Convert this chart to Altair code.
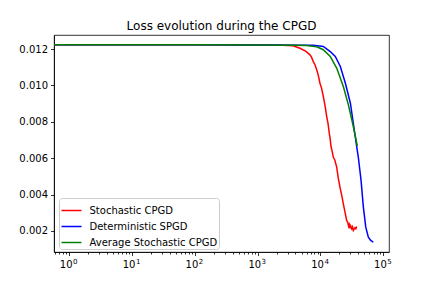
import altair as alt
import pandas as pd

title_text = "Loss evolution during the CPGD"
series_names = ["Stochastic CPGD", "Deterministic SPGD", "Average Stochastic CPGD"]
series_colors = ["#ff0000", "#0000ff", "#008000"]

# first sample is iteration 0 (clipped to the left edge on the log axis)
red_x = [0.3, 1, 10, 100, 1000, 2500, 3650, 4720, 5800, 6810, 7200, 7680, 8200, 8700, 9200,
         9810, 10400, 11090, 11800, 12560, 13200, 13800, 14200, 14700, 15300, 16000,
         16900, 18100, 19200, 20400, 21700, 23100, 24500, 26100, 27300, 28000, 28700,
         29500, 30200, 31400, 32300, 33300, 34200, 35400, 36500, 37700]
red_y = [0.01223, 0.01223, 0.01223, 0.01223, 0.01222, 0.01221, 0.01218, 0.01204, 0.01188, 0.01168,
         0.01155, 0.01131, 0.01112, 0.01086, 0.01058, 0.01012, 0.00985, 0.00939, 0.00890,
         0.00829, 0.00790, 0.00737, 0.00712, 0.00664, 0.00640, 0.00605, 0.00590, 0.00551,
         0.00490, 0.00441, 0.00398, 0.00349, 0.00305, 0.00258, 0.00245, 0.00226, 0.00236,
         0.00215, 0.00228, 0.00212, 0.00222, 0.00203, 0.00210, 0.00218, 0.00212, 0.00225]

blue_x = [0.3, 1, 10, 100, 1000, 5000, 7680, 11090, 14300, 17200, 20700, 24900, 29900, 33300,
          37700, 40000, 44200, 48100, 52500, 57700, 63000, 69300]
blue_y = [0.01223, 0.01223, 0.01223, 0.01223, 0.01222, 0.01221, 0.01220, 0.01214, 0.01186, 0.01159,
          0.01104, 0.01012, 0.00902, 0.00792, 0.00664, 0.00605, 0.00478, 0.00331, 0.00221,
          0.00166, 0.00148, 0.00138]

green_x = [0.3, 1, 10, 100, 1000, 4000, 5940, 8700, 11090, 14300, 18100, 23100, 27800, 33300, 38500]
green_y = [0.01223, 0.01223, 0.01223, 0.01223, 0.01222, 0.01221, 0.01219, 0.01212, 0.01196, 0.01159,
           0.01095, 0.00994, 0.00893, 0.00774, 0.00667]

y_ticks = [0.002, 0.004, 0.006, 0.008, 0.010, 0.012]
x_major = [1, 10, 100, 1000, 10000, 100000]
x_minor = [m * 10 ** k for k in range(-1, 5) for m in range(2, 10)]
x_minor = [v for v in x_minor if 0.577 <= v <= 123000]

rows = []
for name, xs, ys in zip(series_names, [red_x, blue_x, green_x], [red_y, blue_y, green_y]):
    for i, (xv, yv) in enumerate(zip(xs, ys)):
        rows.append({"series": name, "iter": xv, "loss": yv, "order": i})
df = pd.DataFrame(rows)

x_scale = alt.Scale(type="log", domain=[0.577, 123000], nice=False)
y_scale = alt.Scale(domain=[0.000844, 0.01277], nice=False, zero=False)

y_axis = alt.Axis(values=y_ticks, format=".3f", title=None, grid=False,
                  tickSize=3.5, labelPadding=3)

exp_expr = 'format(round(log(datum.value)/LN10), "d")'

lines = alt.Chart(df).mark_line(strokeWidth=1.5, clip=True).encode(
    x=alt.X("iter:Q", scale=x_scale,
            axis=alt.Axis(values=x_major, labelExpr='"10"', title=None, grid=False,
                          tickSize=3.5, labelPadding=4, labelAlign="right",
                          labelOffset=3, orient="bottom")),
    y=alt.Y("loss:Q", scale=y_scale, axis=y_axis),
    color=alt.Color("series:N",
                    scale=alt.Scale(domain=series_names, range=series_colors),
                    legend=alt.Legend(title=None, orient="none", legendX=5, legendY=163,
                                      symbolType="stroke", symbolSize=400,
                                      symbolStrokeWidth=1.5, labelFontSize=10,
                                      fillColor="white", strokeColor="#cccccc",
                                      padding=1.5, cornerRadius=3, labelOffset=7,
                                      rowPadding=-2, labelColor="black")),
    detail="series:N",
    order="order:Q",
)

minor = alt.Chart(df).mark_line(opacity=0, clip=True).encode(
    x=alt.X("iter:Q", scale=x_scale,
            axis=alt.Axis(values=x_minor, labels=False, title=None, grid=False,
                          tickSize=2, orient="bottom", domain=False)),
    y=alt.Y("loss:Q", scale=y_scale, axis=y_axis),
    detail="series:N",
)

exps = alt.Chart(df).mark_line(opacity=0, clip=True).encode(
    x=alt.X("iter:Q", scale=x_scale,
            axis=alt.Axis(values=x_major, labelExpr=exp_expr, title=None, grid=False,
                          tickSize=3.5, tickOpacity=0, domain=False, labelFontSize=7,
                          labelPadding=2, labelAlign="left", labelOffset=3.5,
                          orient="bottom")),
    y=alt.Y("loss:Q", scale=y_scale, axis=y_axis),
    detail="series:N",
)

chart = alt.layer(minor, exps, lines).resolve_axis(x="independent").properties(
    width=335, height=217,
    title=alt.Title(title_text, fontSize=12, fontWeight="normal", offset=2, dy=0,
                    color="black"),
    padding={"left": 46, "top": 27, "right": 30, "bottom": 20},
    autosize=alt.AutoSizeParams(type="none"),
).configure(font="DejaVu Sans").configure_view(
    stroke="black", strokeWidth=0.8
).configure_axis(
    domainColor="black", tickColor="black", labelColor="black", labelFontSize=10,
    domainWidth=0.8, tickWidth=0.8, labelFont="DejaVu Sans"
)

chart.save("out.html", embed_options={"renderer": "svg", "actions": False})
